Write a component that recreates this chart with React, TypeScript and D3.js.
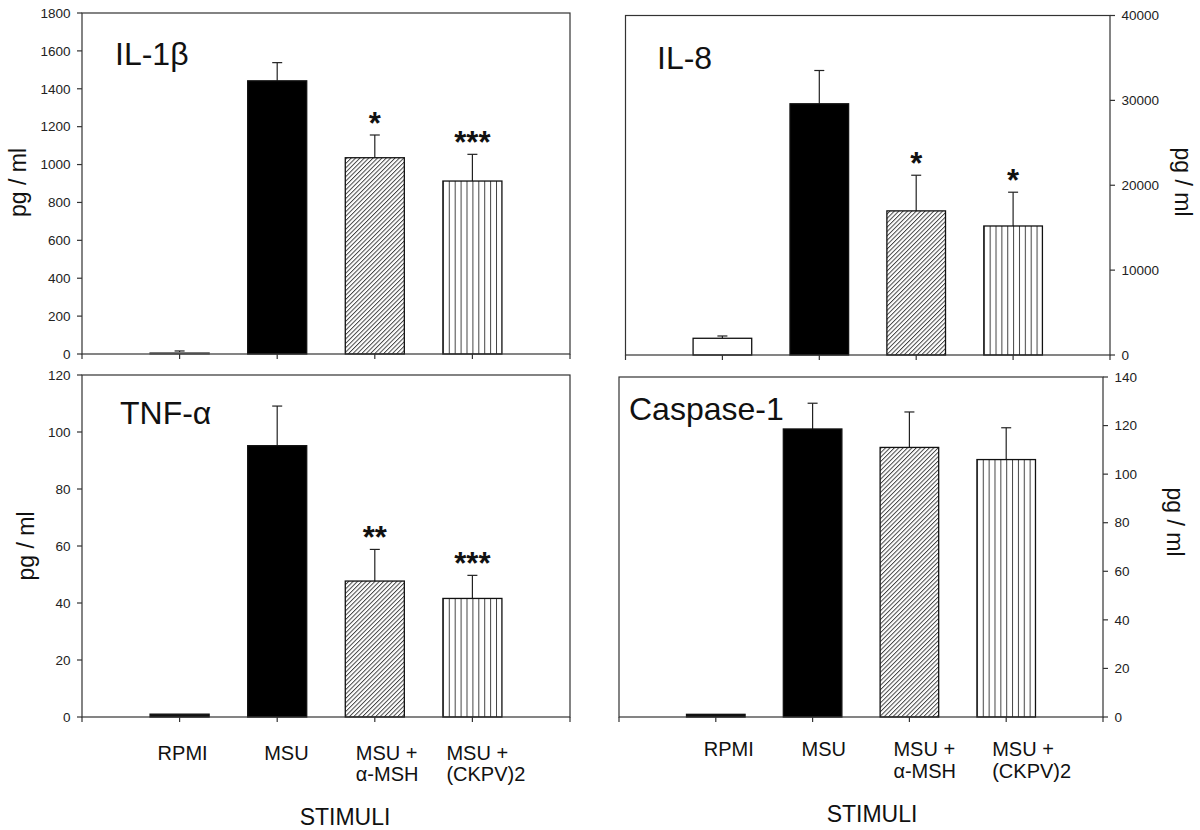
import React from "react";
import * as d3 from "d3";

// ---------- data ----------
const categoryLines: string[][] = [["RPMI"], ["MSU"], ["MSU +", "α-MSH"], ["MSU +", "(CKPV)2"]];
const fills = ["white", "black", "url(#diagHatch)", "url(#vertHatch)"];

const il1bMeans = [7, 1442, 1036, 913];
const il1bErr = [9, 96, 120, 141];
const il1bStars = ["", "", "*", "***"];
const il1bTicks = [0, 200, 400, 600, 800, 1000, 1200, 1400, 1600, 1800];

const il8Means = [1970, 29600, 16980, 15200];
const il8Err = [270, 3920, 4200, 3980];
const il8Stars = ["", "", "*", "*"];
const il8Ticks = [0, 10000, 20000, 30000, 40000];

const tnfMeans = [1.0, 95.2, 47.7, 41.6];
const tnfErr = [0, 13.9, 11.1, 8.1];
const tnfStars = ["", "", "**", "***"];
const tnfTicks = [0, 20, 40, 60, 80, 100, 120];

const caspMeans = [1.1, 118.6, 111, 106];
const caspErr = [0, 10.6, 14.6, 13.1];
const caspStars = ["", "", "", ""];
const caspTicks = [0, 20, 40, 60, 80, 100, 120, 140];

const FONT = "'Liberation Sans', Arial, Helvetica, sans-serif";
const AXIS = "#333";

type PanelCfg = {
  title: string; titleX: number; titleY: number;
  means: number[]; errs: number[]; stars: string[]; ticks: number[];
  x0: number; x1: number; yTop: number; yBot: number;
  side: "left" | "right";
  ylabX: number; ylabY: number;
  showLabels: boolean; labelDx?: number[]; labelY?: number[];
  stimX?: number; stimY?: number; rpmiStroke: string; rpmiFill: string;
};

const panels: PanelCfg[] = [
  { title: "IL-1β", titleX: 115, titleY: 65, means: il1bMeans, errs: il1bErr, stars: il1bStars, ticks: il1bTicks,
    x0: 82, x1: 570, yTop: 13, yBot: 354, side: "left", ylabX: 26, ylabY: 182.5, showLabels: false,
    rpmiStroke: "#777", rpmiFill: "white" },
  { title: "IL-8", titleX: 657, titleY: 69, means: il8Means, errs: il8Err, stars: il8Stars, ticks: il8Ticks,
    x0: 625.5, x1: 1110, yTop: 15.5, yBot: 355, side: "right", ylabX: 1175, ylabY: 182, showLabels: false,
    rpmiStroke: "#111", rpmiFill: "white" },
  { title: "TNF-α", titleX: 120, titleY: 424, means: tnfMeans, errs: tnfErr, stars: tnfStars, ticks: tnfTicks,
    x0: 82, x1: 570, yTop: 375, yBot: 717, side: "left", ylabX: 33.5, ylabY: 546, showLabels: true,
    labelDx: [-22, -13, -19, -26], labelY: [760, 781], stimX: 345, stimY: 825, rpmiStroke: "#111", rpmiFill: "#111" },
  { title: "Caspase-1", titleX: 629, titleY: 420, means: caspMeans, errs: caspErr, stars: caspStars, ticks: caspTicks,
    x0: 619, x1: 1103, yTop: 377, yBot: 717, side: "right", ylabX: 1166.5, ylabY: 522, showLabels: true,
    labelDx: [-12, -11, -16, -14], labelY: [756, 778], stimX: 872, stimY: 822, rpmiStroke: "#111", rpmiFill: "#111" },
];

function Panel({ p }: { p: PanelCfg }) {
  const x = d3.scaleLinear().domain([0, 5]).range([p.x0, p.x1]);
  const yMax = p.ticks[p.ticks.length - 1];
  const y = d3.scaleLinear().domain([0, yMax]).range([p.yBot, p.yTop]);
  const bw = (x(1) - x(0)) * 0.605;
  const axisX = p.side === "left" ? p.x0 : p.x1;
  const tickDir = p.side === "left" ? -1 : 1;
  return (
    <g>
      {p.means.map((m, i) => {
        const cx = x(i + 1);
        const top = y(m);
        const eTop = y(m + p.errs[i]);
        return (
          <g key={"b" + i}>
            {p.errs[i] > 0 && (
              <g stroke="#222" strokeWidth={1.2}>
                <line x1={cx} x2={cx} y1={top} y2={eTop} />
                <line x1={cx - 5} x2={cx + 5} y1={eTop} y2={eTop} />
              </g>
            )}
            <rect x={cx - bw / 2} y={top} width={bw} height={p.yBot - top}
              fill={i === 0 ? p.rpmiFill : fills[i]} stroke={i === 0 ? p.rpmiStroke : "#111"} strokeWidth={1.3} />
            {p.stars[i] && (
              <text x={cx} y={eTop - 1} textAnchor="middle" fontFamily={FONT}
                fontWeight="bold" fontSize={31} fill="#111">{p.stars[i]}</text>
            )}
          </g>
        );
      })}
      <rect x={p.x0} y={p.yTop} width={p.x1 - p.x0} height={p.yBot - p.yTop} fill="none" stroke={AXIS} strokeWidth={1.2} />
      {d3.range(0, 6).map((i) => (
        <line key={"xt" + i} x1={x(i)} x2={x(i)} y1={p.yBot} y2={p.yBot + 5} stroke={AXIS} strokeWidth={1.2} />
      ))}
      {p.ticks.map((t) => (
        <g key={"yt" + t}>
          <line x1={axisX} x2={axisX + tickDir * 5} y1={y(t)} y2={y(t)} stroke={AXIS} strokeWidth={1.2} />
          <text x={axisX + tickDir * 11.5} y={y(t)} dy="0.35em" textAnchor={p.side === "left" ? "end" : "start"}
            fontFamily={FONT} fontSize={13.5} fill="#222">{t}</text>
        </g>
      ))}
      <text transform={`translate(${p.ylabX},${p.ylabY}) rotate(${p.side === "left" ? -90 : 90})`}
        textAnchor="middle" fontFamily={FONT} fontSize={23} fill="#111">pg / ml</text>
      <text x={p.titleX} y={p.titleY} fontFamily={FONT} fontSize={32} fill="#111">{p.title}</text>
      {p.showLabels && categoryLines.map((lines, i) => (
        <text key={"cl" + i} fontFamily={FONT} fontSize={20} fill="#111">
          {lines.map((ln, j) => (
            <tspan key={j} x={x(i + 1) + p.labelDx![i]} y={p.labelY![j]}>{ln}</tspan>
          ))}
        </text>
      ))}
      {p.showLabels && (
        <text x={p.stimX} y={p.stimY} textAnchor="middle" fontFamily={FONT} fontSize={23} fill="#111">STIMULI</text>
      )}
    </g>
  );
}

export default function App() {
  return (
    <svg width={1200} height={830} style={{ position: "absolute", left: 0, top: 0, background: "white" }}>
      <defs>
        <pattern id="diagHatch" patternUnits="userSpaceOnUse" width={3.1} height={10} patternTransform="rotate(45)">
          <rect width={3.1} height={10} fill="white" />
          <line x1={0.5} y1={0} x2={0.5} y2={10} stroke="#333" strokeWidth={0.9} />
        </pattern>
        <pattern id="vertHatch" patternUnits="objectBoundingBox" width={0.1} height={1}>
          <rect width={100} height={1000} fill="white" />
          <line x1={0.5} y1={0} x2={0.5} y2={1000} stroke="#444" strokeWidth={1} />
        </pattern>
      </defs>
      <rect width={1200} height={830} fill="white" />
      {panels.map((p, i) => <Panel key={i} p={p} />)}
    </svg>
  );
}
